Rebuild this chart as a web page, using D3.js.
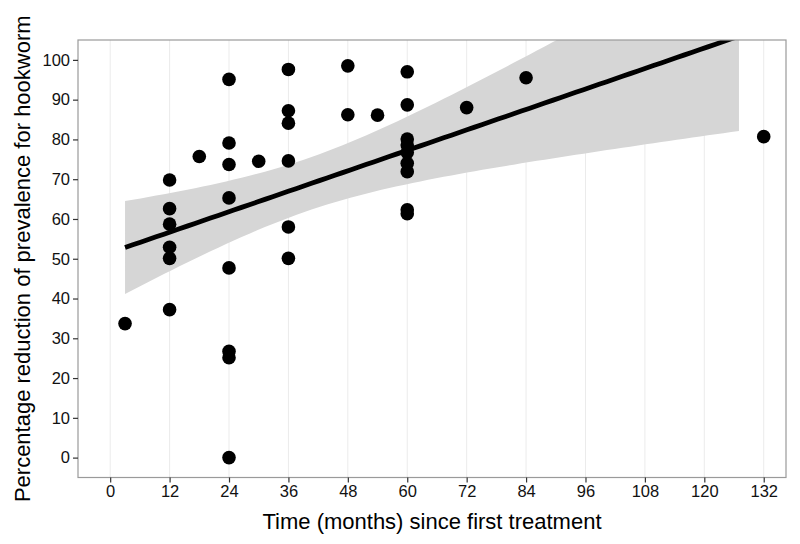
<!DOCTYPE html>
<html>
<head>
<meta charset="utf-8">
<script src="https://cdn.jsdelivr.net/npm/d3@7/dist/d3.min.js"></script>
<style>
  html, body { margin: 0; padding: 0; background: #fff; }
  svg { display: block; font-family: "Liberation Sans", Arial, sans-serif; }
</style>
</head>
<body>
<svg id="chart" width="800" height="544"></svg>
<script>
// ---- data ----
const months = [3,
  12, 12, 12, 12, 12, 12,
  18,
  24, 24, 24, 24, 24, 24, 24, 24,
  30,
  36, 36, 36, 36, 36, 36,
  48, 48,
  54,
  60, 60, 60, 60, 60, 60, 60, 60, 60,
  72,
  84,
  132];
const reduction = [33.7,
  69.8, 62.6, 58.7, 52.9, 50.1, 37.2,
  75.7,
  95.1, 79.1, 73.7, 65.3, 47.7, 26.7, 25.1, 0.0,
  74.5,
  97.6, 87.2, 84.1, 74.6, 58.0, 50.1,
  98.5, 86.2,
  86.1,
  97.0, 88.7, 80.1, 78.6, 76.7, 74.0, 71.9, 62.3, 61.3,
  88.0,
  95.5,
  80.7];
const xTicks = [0, 12, 24, 36, 48, 60, 72, 84, 96, 108, 120, 132];
const yTicks = [0, 10, 20, 30, 40, 50, 60, 70, 80, 90, 100];
const xDomain = [-6.5, 136.5];
const yDomain = [-5, 105];
const smoothRange = [3, 127];   // x-extent of the fitted line / band in the reference
const tCrit = 2.028;            // 95% t quantile, df = n - 2

const xTitle = "Time (months) since first treatment";
const yTitle = "Percentage reduction of prevalence for hookworm";

// ---- layout ----
const svg = d3.select("#chart");
const panel = { left: 78, right: 786, top: 40, bottom: 477.5 };

const x = d3.scaleLinear().domain(xDomain).range([panel.left, panel.right]);
const y = d3.scaleLinear().domain(yDomain).range([panel.bottom, panel.top]);

// ---- linear fit (lm) with 95% confidence band ----
const pts = months.map((m, i) => ({ m, r: reduction[i] }));
const n = pts.length;
const mx = d3.mean(pts, d => d.m), my = d3.mean(pts, d => d.r);
const sxx = d3.sum(pts, d => (d.m - mx) ** 2);
const sxy = d3.sum(pts, d => (d.m - mx) * (d.r - my));
const slope = sxy / sxx, intercept = my - slope * mx;
const sse = d3.sum(pts, d => (d.r - (intercept + slope * d.m)) ** 2);
const se = Math.sqrt(sse / (n - 2));
const grid = d3.range(0, 80).map(i => smoothRange[0] + (smoothRange[1] - smoothRange[0]) * i / 79);
const band = grid.map(g => {
  const fit = intercept + slope * g;
  const hw = tCrit * se * Math.sqrt(1 / n + (g - mx) ** 2 / sxx);
  return { g, fit, lo: fit - hw, hi: fit + hw };
});

// ---- panel ----
svg.append("defs").append("clipPath").attr("id", "clip")
  .append("rect")
  .attr("x", panel.left).attr("y", panel.top)
  .attr("width", panel.right - panel.left).attr("height", panel.bottom - panel.top);

svg.append("rect")
  .attr("x", panel.left).attr("y", panel.top)
  .attr("width", panel.right - panel.left).attr("height", panel.bottom - panel.top)
  .attr("fill", "#fff");

// vertical grid lines
svg.append("g").selectAll("line").data(xTicks).join("line")
  .attr("x1", d => x(d)).attr("x2", d => x(d))
  .attr("y1", panel.top).attr("y2", panel.bottom)
  .attr("stroke", "#ebebeb").attr("stroke-width", 1);

const plot = svg.append("g").attr("clip-path", "url(#clip)");

plot.append("path").datum(band)
  .attr("d", d3.area().x(d => x(d.g)).y0(d => y(d.lo)).y1(d => y(d.hi)))
  .attr("fill", "#d6d6d6");

plot.append("path").datum(band)
  .attr("d", d3.line().x(d => x(d.g)).y(d => y(d.fit)))
  .attr("fill", "none").attr("stroke", "#000").attr("stroke-width", 4.8);

plot.append("g").selectAll("circle").data(pts).join("circle")
  .attr("cx", d => x(d.m)).attr("cy", d => y(d.r))
  .attr("r", 6.8).attr("fill", "#000");

// panel border
svg.append("rect")
  .attr("x", panel.left).attr("y", panel.top)
  .attr("width", panel.right - panel.left).attr("height", panel.bottom - panel.top)
  .attr("fill", "none").attr("stroke", "#9a9a9a").attr("stroke-width", 1.2);

// ---- axes ----
const xAxis = svg.append("g")
  .attr("transform", `translate(0,${panel.bottom})`)
  .call(d3.axisBottom(x).tickValues(xTicks).tickSize(5).tickPadding(3));
const yAxis = svg.append("g")
  .attr("transform", `translate(${panel.left},0)`)
  .call(d3.axisLeft(y).tickValues(yTicks).tickSize(5).tickPadding(3));
[xAxis, yAxis].forEach(a => {
  a.select(".domain").remove();
  a.selectAll(".tick line").attr("stroke", "#333").attr("stroke-width", 1.2);
  a.selectAll(".tick text")
    .attr("fill", "#111")
    .style("font-size", "16.5px")
    .style("font-family", "'Liberation Sans', Arial, sans-serif");
});

// ---- titles ----
svg.append("text")
  .attr("x", (panel.left + panel.right) / 2).attr("y", 521)
  .attr("text-anchor", "middle").attr("dominant-baseline", "central")
  .style("font-size", "22px").attr("fill", "#000")
  .text(xTitle);

svg.append("text")
  .attr("transform", `translate(22,${(panel.top + panel.bottom) / 2}) rotate(-90)`)
  .attr("text-anchor", "middle").attr("dominant-baseline", "central")
  .style("font-size", "22px").attr("fill", "#000")
  .text(yTitle);
</script>
</body>
</html>
